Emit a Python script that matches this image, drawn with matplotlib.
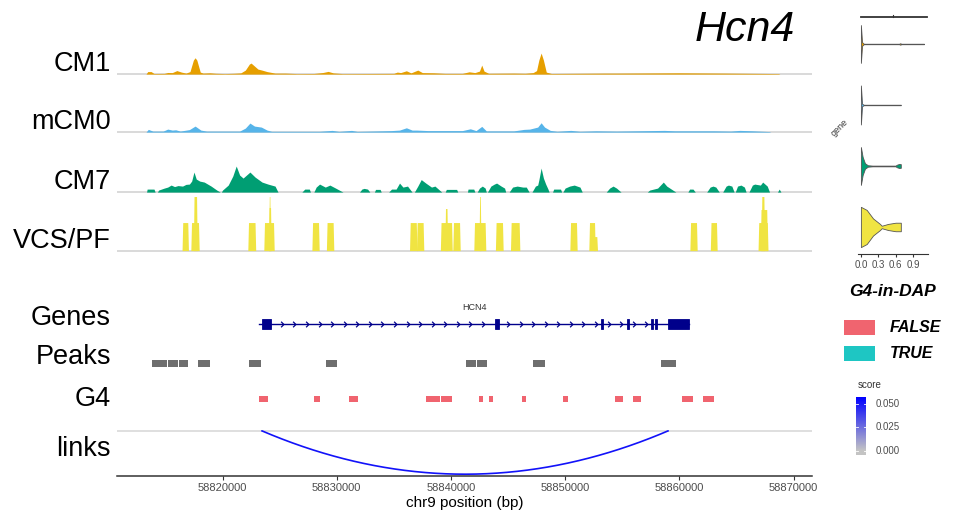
import numpy as np
import matplotlib
matplotlib.use('Agg')
import matplotlib.pyplot as plt
from matplotlib.colors import LinearSegmentedColormap, Normalize
from matplotlib.patches import Rectangle

plt.rcParams['font.family'] = ['Liberation Sans', 'DejaVu Sans']

W, H = 955, 520
REGION = (58810.76, 58871.62)   # kb on chr9
TRACK_MAX = 57.0
LABEL_SIZE = 19.5

track_names = ['CM1', 'mCM0', 'CM7', 'VCS/PF']
track_colors = ['#E69F00', '#56B4E9', '#009E73', '#F0E442']

# coverage tracks: position (kb), normalised signal
cm1_pos = [58813.30, 58813.45, 58813.75, 58814.0, 58814.9, 58815.2, 58815.6, 58816.0, 58816.4,
           58816.8, 58817.15, 58817.45, 58817.6, 58817.75, 58818.05, 58818.3, 58818.9, 58819.4,
           58820.2, 58821.0, 58821.6, 58822.0, 58822.35, 58822.5, 58822.75, 58823.1, 58823.45,
           58823.9, 58824.6, 58825.5, 58826.5, 58828.0, 58828.8, 58829.25, 58829.7, 58830.5,
           58833.0, 58835.0, 58835.3, 58835.6, 58836.1, 58836.5, 58837.1, 58837.5, 58838.5,
           58839.5, 58841.0, 58841.6, 58842.1, 58842.5, 58842.7, 58842.9, 58843.3, 58845.5,
           58846.5, 58847.2, 58847.5, 58847.7, 58847.9, 58848.1, 58848.35, 58848.8, 58853.5,
           58854.6, 58860.0, 58864.0, 58868.7, 58868.8]
cm1_val = [0, 2.5, 2.5, 0.6, 0.7, 1.6, 1.5, 3.5, 2.0,
           1.0, 2.5, 14, 16.3, 14, 2, 1.0, 1.3, 0.8,
           0.5, 0.8, 1.2, 4, 10, 11, 8.5, 5, 4,
           2.5, 1.0, 1.0, 0.5, 0.6, 1.6, 2.7, 1.2, 0.5,
           0.6, 0.7, 2.0, 1.5, 3.3, 1.2, 4.0, 1.5, 1.3,
           0.7, 0.7, 2.3, 1.5, 3, 9, 3, 0.8, 1.0,
           0.8, 1.5, 3.5, 14, 21, 14, 2, 0.6, 1.0,
           1.0, 1.3, 1.0, 0.5, 0]

mcm0_pos = [58813.30, 58813.5, 58813.9, 58814.8, 58815.2, 58815.6, 58815.9, 58816.3, 58817.1,
            58817.6, 58818.1, 58818.6, 58821.5, 58822.0, 58822.4, 58822.8, 58823.4, 58823.9,
            58824.3, 58828.5, 58829.6, 58830.2, 58831.3, 58831.8, 58834.8, 58835.5, 58836.1,
            58836.6, 58837.0, 58838.0, 58841.0, 58841.7, 58842.2, 58842.7, 58843.1, 58845.5,
            58846.4, 58846.9, 58847.6, 58847.9, 58848.2, 58848.7, 58849.3, 58850.5, 58851.3,
            58852.7, 58854.5, 58858.7, 58859.6, 58861.5, 58863.0, 58864.5, 58865.3, 58866.4,
            58867.9, 58868.0]
mcm0_val = [0, 2.7, 1.0, 1.0, 3.0, 2.0, 2.3, 1.0, 2.5,
            6.0, 2, 1.0, 1.0, 4, 9.0, 6, 5.0, 2,
            0.8, 0.8, 1.7, 0.7, 1.7, 0.7, 1.5, 2.0, 4.3,
            2.0, 2.0, 1.5, 1.5, 3.3, 1.5, 5.7, 1.2, 1.2,
            2.7, 3, 5, 9.3, 5, 1.7, 0.8, 1.7, 0.8,
            1.3, 1.0, 1.7, 1.3, 1.3, 1.3, 1.0, 1.7, 1.3,
            0.5, 0]

cm7_pos = [58813.35, 58813.4, 58814.0, 58814.1,
           58814.3, 58814.4, 58814.9, 58815.2, 58815.5, 58815.8, 58816.1, 58816.5, 58816.8,
           58817.1, 58817.3, 58817.5, 58817.7, 58818.0, 58818.4, 58819.0, 58819.5, 58819.8,
           58819.9, 58820.0, 58820.5, 58820.9, 58821.2, 58821.5, 58821.8, 58822.4, 58822.85,
           58823.46, 58823.98, 58824.6, 58824.86,
           58826.95, 58827.2, 58827.6, 58827.7,
           58828.0, 58828.2, 58828.5, 58829.0, 58829.4, 58829.9, 58830.55,
           58832.0, 58832.2, 58832.4, 58832.7, 58832.9,
           58833.3, 58833.4, 58833.8, 58833.9,
           58834.55, 58834.8, 58835.2, 58835.5, 58835.8, 58836.2, 58836.6,
           58836.8, 58837.1, 58837.4, 58837.8, 58838.3, 58838.6, 58839.2,
           58839.5, 58839.6, 58840.5, 58840.6,
           58841.45, 58841.5, 58842.0, 58842.1,
           58842.3, 58842.5, 58842.75, 58843.0, 58843.1,
           58843.2, 58843.5, 58843.8, 58844.0, 58844.4, 58844.7, 58844.8,
           58845.1, 58845.4, 58845.8, 58846.3, 58846.6, 58846.85,
           58847.1, 58847.4, 58847.6, 58847.7, 58847.9, 58848.1, 58848.3, 58848.5, 58848.6,
           58848.9, 58849.0, 58849.6, 58849.7,
           58849.8, 58850.0, 58850.4, 58850.8, 58851.3, 58851.5,
           58853.6, 58853.9, 58854.2, 58854.5, 58854.9,
           58857.2, 58857.4, 58858.1, 58858.6, 58858.9, 58859.3, 58859.7,
           58860.75, 58860.9, 58861.2, 58861.4,
           58862.4, 58862.7, 58862.95, 58863.2, 58863.5,
           58863.8, 58864.1, 58864.3, 58864.6, 58864.8,
           58864.9, 58865.1, 58865.4, 58865.7, 58865.85,
           58866.1, 58866.4, 58866.6, 58867.1, 58867.3, 58867.7, 58867.9,
           58868.6, 58868.75, 58868.9]
cm7_val = [0, 3, 3, 0,
           0, 2, 4, 5, 7, 5.5, 6.5, 6, 7.7,
           8, 11, 20, 13, 11, 10, 6, 2, 0,
           0, 2, 7, 16, 26, 17, 14, 20, 15,
           10, 8, 6, 0,
           0, 3, 3, 0,
           0, 5, 8, 5, 7, 4, 0,
           0, 3, 3.7, 3, 0,
           0, 2.7, 2.7, 0,
           0, 3, 3, 9, 5, 6, 0,
           0, 6, 12.5, 9, 5, 6, 0,
           0, 2.7, 2.7, 0,
           0, 3, 3, 0,
           0, 4, 6, 4, 0,
           0, 6, 8, 9, 6, 4, 0,
           0, 5, 6, 5, 5, 0,
           0, 6, 7, 12, 24, 14, 8, 3, 0,
           0, 3, 3, 0,
           0, 4, 6, 7, 5, 0,
           0, 4, 6, 4, 0,
           0, 2, 4, 10, 6, 3, 0,
           0, 3, 3, 0,
           0, 5, 6, 5, 0,
           0, 6, 7, 6, 0,
           0, 6, 7, 5, 0,
           0, 7, 8, 7, 10, 6, 0,
           0, 3, 0]

# VCS/PF coverage comes in flat-topped blocks: start (kb), end (kb), height
vcs_start = [58816.56, 58817.33, 58817.55, 58822.32, 58823.72, 58824.12, 58824.14, 58827.93,
             58829.20, 58836.48, 58837.09, 58839.18, 58839.57, 58840.27, 58842.11, 58842.56,
             58844.00, 58845.32, 58850.52, 58852.18, 58852.62, 58861.03, 58862.82, 58867.00,
             58867.20, 58867.27]
vcs_end = [58817.00, 58817.94, 58817.77, 58822.89, 58824.51, 58824.25, 58824.19, 58828.45,
           58829.73, 58837.01, 58837.61, 58840.10, 58839.70, 58840.80, 58843.04, 58842.62,
           58844.56, 58846.02, 58851.04, 58852.62, 58852.82, 58861.55, 58863.30, 58867.75,
           58867.70, 58867.45]
vcs_height = [28, 28, 54, 28, 28, 43, 54, 28,
              28, 28, 28, 28, 42, 28, 28, 54,
              28, 28, 28, 28, 14, 28, 28, 28,
              41, 54]

# gene model (kb)
gene_name = 'HCN4'
gene_start, gene_end = 58823.20, 58860.89
exon_start = [58823.42, 58843.85, 58853.17, 58855.45, 58857.55, 58857.90, 58859.01]
exon_end = [58824.22, 58844.24, 58853.30, 58855.58, 58857.66, 58858.02, 58860.89]

peak_start = [58813.82, 58815.22, 58816.19, 58817.88, 58822.32, 58829.05, 58841.31, 58842.31,
              58847.22, 58858.40]
peak_end = [58815.13, 58816.10, 58817.02, 58818.88, 58823.34, 58830.05, 58842.20, 58843.20,
            58848.22, 58859.68]

g4_start = [58823.20, 58828.01, 58831.05, 58837.82, 58839.10, 58842.43, 58843.32, 58846.21,
            58849.82, 58854.37, 58855.98, 58860.20, 58862.08]
g4_end = [58824.02, 58828.54, 58831.87, 58839.01, 58840.10, 58842.79, 58843.72, 58846.61,
          58850.26, 58855.07, 58856.67, 58861.20, 58863.02]
g4_in_dap = [False] * 13

link_start, link_end, link_score = 58823.46, 58859.01, 0.052

# G4-in-DAP violins per cell group: value, half width
vln_value = {
    'CM1': [0, 0.02, 0.05, 0.66, 0.68, 0.70, 1.09],
    'mCM0': [0, 0.02, 0.05, 0.69],
    'CM7': [0, 0.03, 0.07, 0.12, 0.20, 0.60, 0.62, 0.66, 0.69],
    'VCS/PF': [0, 0.10, 0.21, 0.33, 0.36, 0.47, 0.60, 0.69],
}
vln_width = {
    'CM1': [0.31, 0.03, 0.004, 0.004, 0.012, 0.004, 0.004],
    'mCM0': [0.32, 0.02, 0.004, 0.004],
    'CM7': [0.31, 0.15, 0.045, 0.012, 0.006, 0.006, 0.02, 0.033, 0.03],
    'VCS/PF': [0.33, 0.28, 0.14, 0.05, 0.02, 0.05, 0.07, 0.07],
}

dap_colors = {False: '#F0646F', True: '#1EC6C3'}
score_cmap = LinearSegmentedColormap.from_list('score', ['#C4C4C4', '#0000FF'])


def px_axes(fig, x0, y0, x1, y1):
    """axes from a pixel box (origin top-left)"""
    ax = fig.add_axes([x0 / W, 1 - y1 / H, (x1 - x0) / W, (y1 - y0) / H])
    ax.set_axis_off()
    return ax


def to_bp(kb):
    return np.asarray(kb) * 1000.0


def track_label(text, ypx):
    fig.text(111 / W, 1 - ypx / H, text, ha='right', va='center', fontsize=LABEL_SIZE)


fig = plt.figure(figsize=(W / 100, H / 100), dpi=100)
xlim = to_bp(REGION)
X0, X1 = 117, 812

# coverage tracks
baselines = [74, 132, 192, 251]
cov_pos = [cm1_pos, mcm0_pos, cm7_pos]
cov_val = [cm1_val, mcm0_val, cm7_val]
for i, name in enumerate(track_names):
    ax = px_axes(fig, X0, baselines[i] - 57, X1, baselines[i] + 1)
    ax.set_xlim(*xlim)
    ax.set_ylim(-0.9, TRACK_MAX)
    ax.axhline(-0.3, color='#D9D9D9', lw=1.4, zorder=0)
    if i < 3:
        ax.fill_between(to_bp(cov_pos[i]), cov_val[i], color=track_colors[i], lw=0)
    else:
        for s, e, h in zip(vcs_start, vcs_end, vcs_height):
            xs = to_bp([s - 0.06, s, e, e + 0.06])
            ax.fill(xs, [0, h, h, 0], color=track_colors[i], lw=0)
    track_label(name, baselines[i] - 10)

# gene track
gax = px_axes(fig, X0, 304, X1, 344)
gax.set_xlim(*xlim)
gax.set_ylim(0, 1)
gax.plot(to_bp([gene_start, gene_end]), [0.5, 0.5], color='#00008B', lw=1.0)
for s, e in zip(exon_start, exon_end):
    gax.add_patch(Rectangle((s * 1000, 0.38), (e - s) * 1000, 0.24,
                            facecolor='#00008B', edgecolor='#00008B', lw=0.6))
# strand chevrons along the introns
arrow_kb = np.arange(gene_start + 0.9, gene_end, 1.1)
arrow_kb = [a for a in arrow_kb
            if not any(s - 0.25 < a < e + 0.25 for s, e in zip(exon_start, exon_end))]
gax.plot(to_bp(arrow_kb), [0.5] * len(arrow_kb), ls='none', color='#00008B',
         marker=[(-0.5, 1), (0.5, 0), (-0.5, -1)], markersize=4, mew=0.9,
         markerfacecolor='none')
gax.text((gene_start + gene_end) / 2 * 1000, 0.9, gene_name, ha='center', va='center',
         fontsize=6.5, color='#333333')
track_label('Genes', 318)

# peak track
pax = px_axes(fig, X0, 350, X1, 378)
pax.set_xlim(*xlim)
pax.set_ylim(0, 1)
pax.broken_barh([(s * 1000, (e - s) * 1000) for s, e in zip(peak_start, peak_end)],
                (0.38, 0.25), facecolor='#6E6E6E')
track_label('Peaks', 357)

# G4 track
qax = px_axes(fig, X0, 386, X1, 412)
qax.set_xlim(*xlim)
qax.set_ylim(0, 1)
qax.broken_barh([(s * 1000, (e - s) * 1000) for s, e in zip(g4_start, g4_end)],
                (0.38, 0.24), facecolor=[dap_colors[f] for f in g4_in_dap])
track_label('G4', 399)

# link track with genomic axis
lax = fig.add_axes([X0 / W, 1 - 476 / H, (X1 - X0) / W, 46 / H])
lax.set_xlim(*xlim)
lax.set_ylim(-1.0, 0.02)
lax.axhline(0, color='#D9D9D9', lw=1.2)
t = np.linspace(0, 1, 200)
mid = (link_start + link_end) / 2
bx = (1 - t) ** 2 * link_start + 2 * (1 - t) * t * mid + t ** 2 * link_end
by = 2 * (1 - t) * t * (-1.92)
norm = Normalize(0, 0.0575)
lax.plot(bx * 1000, by, color=score_cmap(norm(link_score)), lw=1.2)
for sp in ['top', 'right', 'left']:
    lax.spines[sp].set_visible(False)
lax.spines['bottom'].set_color('#333333')
lax.spines['bottom'].set_linewidth(1.1)
lax.set_yticks([])
lax.set_xticks(np.arange(58820000, 58870001, 10000))
lax.set_xticklabels([str(v) for v in range(58820000, 58870001, 10000)])
lax.tick_params(axis='x', colors='#333333', labelcolor='#4D4D4D', labelsize=8, length=3, pad=2)
lax.set_xlabel('chr9 position (bp)', fontsize=11, labelpad=2)
track_label('links', 449)

# title
fig.text(745 / W, 1 - 30 / H, 'Hcn4', ha='center', va='center', fontsize=31, style='italic')

# violin panel
vax = fig.add_axes([858 / W, 1 - 254 / H, 70 / W, 244 / H])
vax.set_xlim(-0.05, 1.16)
vax.set_ylim(0.557, 4.557)
for k, name in enumerate(track_names):
    center = 4 - k
    v = np.array(vln_value[name])
    w = np.array(vln_width[name])
    vax.fill_between(v, center - w, center + w, facecolor=track_colors[k],
                     edgecolor='#555555', lw=0.6)
vax.plot([0, 1.14], [4.442, 4.442], color='#333333', lw=1.3)
vax.plot([0.55, 0.55], [4.442, 4.47], color='#333333', lw=0.8)
for sp in ['top', 'right', 'left']:
    vax.spines[sp].set_visible(False)
vax.spines['bottom'].set_color('#333333')
vax.set_yticks([])
vax.set_xticks([0.0, 0.3, 0.6, 0.9])
vax.set_xticklabels(['0.0', '0.3', '0.6', '0.9'])
vax.tick_params(axis='x', colors='#333333', labelcolor='#4D4D4D', labelsize=7, length=2.5, pad=1.5)
fig.text(840 / W, 1 - 128 / H, 'gene', ha='center', va='center', fontsize=6.5,
         rotation=45, color='#333333')

# legend for G4-in-DAP
fig.text(893 / W, 1 - 291 / H, 'G4-in-DAP', ha='center', va='center', fontsize=12.5,
         weight='bold', style='italic')
for label, yc in [(False, 327), (True, 353)]:
    fig.patches.append(Rectangle((844 / W, 1 - (yc + 7.5) / H), 31 / W, 15 / H,
                                 transform=fig.transFigure, facecolor=dap_colors[label],
                                 edgecolor='none'))
    fig.text(890 / W, 1 - yc / H, str(label).upper(), ha='left', va='center',
             fontsize=11.5, weight='bold', style='italic')

# score colour bar
fig.text(858 / W, 1 - 385 / H, 'score', ha='left', va='center', fontsize=7, color='#333333')
cax = fig.add_axes([856 / W, 1 - 455 / H, 10 / W, 58 / H])
cax.set_axis_off()
grad = np.linspace(-0.0045, 0.0575, 200).reshape(-1, 1)
cax.imshow(grad, cmap=score_cmap, norm=norm, aspect='auto', origin='lower',
           extent=(0, 1, -0.0045, 0.0575))
cax.set_ylim(-0.0045, 0.0575)
for val in [0.0, 0.025, 0.05]:
    cax.plot([0, 0.2], [val, val], color='white', lw=0.6)
    cax.plot([0.8, 1], [val, val], color='white', lw=0.6)
    cax.text(2.0, val, '%.3f' % val, ha='left', va='center', fontsize=7, color='#4D4D4D',
             transform=cax.transData)

fig.savefig('out.png', dpi=100)
